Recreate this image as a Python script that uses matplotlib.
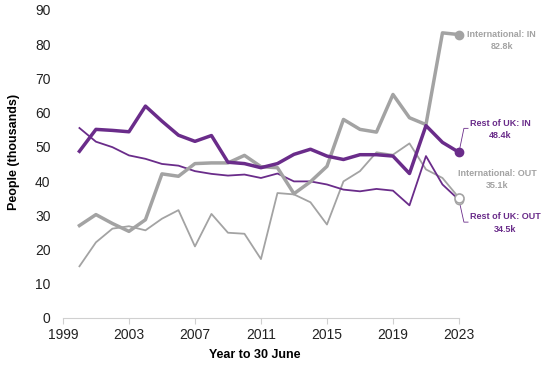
import matplotlib.pyplot as plt

plt.rcParams['font.family'] = ['Liberation Sans', 'DejaVu Sans']

years = list(range(2000, 2024))

# people in thousands, year to 30 June
rest_uk_in = [48.7, 55.1, 54.8, 54.4, 61.9, 57.5, 53.4, 51.6, 53.3, 45.5, 45.1, 43.9,
              45.1, 47.8, 49.3, 47.3, 46.3, 47.7, 47.7, 47.3, 42.2, 56.2, 51.3, 48.4]
rest_uk_out = [55.5, 51.5, 49.9, 47.5, 46.5, 45.0, 44.5, 42.9, 42.1, 41.6, 41.9, 40.9,
               42.2, 39.9, 39.9, 39.0, 37.5, 37.0, 37.7, 37.2, 32.9, 47.3, 39.0, 34.5]
intl_in = [27.0, 30.2, 27.6, 25.3, 28.7, 42.1, 41.4, 45.1, 45.3, 45.3, 47.5, 44.2,
           43.9, 36.3, 39.8, 44.3, 58.0, 55.1, 54.3, 65.3, 58.5, 56.5, 83.3, 82.8]
intl_out = [15.1, 22.1, 26.1, 26.8, 25.6, 29.0, 31.5, 20.9, 30.4, 24.9, 24.6, 17.2,
            36.5, 36.1, 33.8, 27.3, 39.9, 42.9, 48.4, 47.7, 51.0, 43.4, 40.9, 35.1]

purple = '#6a2c8a'
grey = '#a3a3a3'

fig = plt.figure(figsize=(5.57, 3.68), dpi=100)
ax = fig.add_axes([0.113, 0.136, 0.711, 0.837])

ax.plot(years, intl_out, color=grey, lw=1.3, zorder=2)
ax.plot(years, rest_uk_out, color=purple, lw=1.3, zorder=2)
ax.plot(years, intl_in, color=grey, lw=2.5, zorder=3)
ax.plot(years, rest_uk_in, color=purple, lw=2.5, zorder=3)

# end markers
ax.plot(years[-1], intl_in[-1], 'o', color=grey, ms=6, zorder=5, clip_on=False)
ax.plot(years[-1], rest_uk_in[-1], 'o', color=purple, ms=6, zorder=5, clip_on=False)
ax.plot(years[-1], intl_out[-1], 'o', mfc='white', mec=grey, mew=1.2, ms=6.5,
        zorder=5, clip_on=False)
ax.plot(years[-1], rest_uk_out[-1], 'o', mfc='white', mec=grey, mew=1.0, ms=6,
        zorder=4, clip_on=False)

ax.set_xlim(1999, 2023)
ax.set_ylim(0, 90)
ax.set_xticks(range(1999, 2024, 4))
ax.set_yticks(range(0, 91, 10))

for s in ['top', 'right', 'left']:
    ax.spines[s].set_visible(False)
ax.spines['bottom'].set_color('#d0d0d0')
ax.tick_params(axis='x', colors='#d0d0d0', labelcolor='#222222', labelsize=10, length=4)
ax.tick_params(axis='y', length=0, labelsize=10, labelcolor='#222222', pad=9)
ax.set_xlabel('Year to 30 June', fontweight='bold', fontsize=9)
ax.set_ylabel('People (thousands)', fontweight='bold', fontsize=9)
ax.xaxis.set_label_coords(0.485, -0.100)
ax.yaxis.set_label_coords(-0.109, 0.539)

# end labels
lab = dict(fontsize=6.5, fontweight='bold', ha='center', va='center', clip_on=False)
ax.text(2025.6, 81.0, 'International: IN\n82.8k', color=grey, linespacing=1.5, **lab)
ax.text(2025.5, 55.1, 'Rest of UK: IN\n48.4k', color=purple, linespacing=1.5, **lab)
ax.text(2025.3, 40.4, 'International: OUT\n35.1k', color=grey, linespacing=1.5, **lab)
ax.text(2025.8, 27.8, 'Rest of UK: OUT\n34.5k', color=purple, linespacing=1.5, **lab)

# leader lines
ax.plot([2023, 2023.3, 2023.55], [rest_uk_in[-1], 55.4, 55.4], color=purple, lw=0.6,
        clip_on=False, zorder=1)
ax.plot([2023, 2023.3, 2023.55], [rest_uk_out[-1], 28.0, 28.0], color=purple, lw=0.6,
        clip_on=False, zorder=1)

fig.savefig('out.png', dpi=100)
